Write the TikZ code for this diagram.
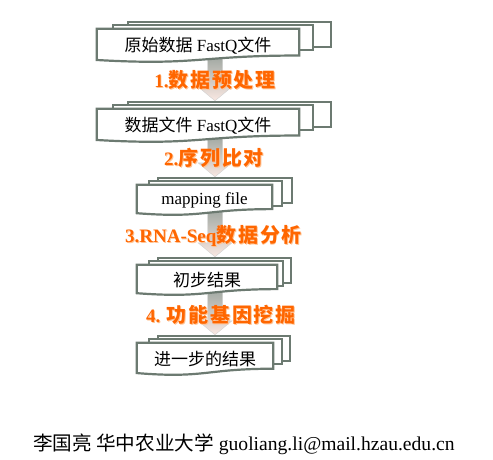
\documentclass[tikz,border=0pt]{standalone}
\usepackage{fontspec}
\setmainfont{Liberation Serif}
\newfontfamily\cjk{Noto Sans CJK SC}
\newfontfamily\cjkb[LetterSpace=9]{Noto Sans CJK SC}
\usetikzlibrary{calc,backgrounds}
\definecolor{docgray}{RGB}{108,122,113}
\definecolor{steporange}{RGB}{255,102,0}
\definecolor{stepglow}{RGB}{255,196,150}
\definecolor{arrtop}{RGB}{160,168,162}
\definecolor{arrbot}{RGB}{250,232,226}
\newcommand\docstack[5]{%
  \draw[docline] ($(#1.north west)+(#4,-7)$) rectangle ($(#1.north east)+(#5,18)$);
  \draw[docline] ($(#1.north west)+(#2,-3.5)$) rectangle ($(#1.north east)+(#3,21)$);
  \draw[docline] (#1.north west) -- (#1.north east)
     -- ($(#1.north east)!0.80!(#1.south east)$)
     .. controls ($(#1.north)!0.80!(#1.south)$) and ($(#1.north)!1.107!(#1.south)$)
     .. ($(#1.north west)!0.934!(#1.south west)$) -- cycle;
}
\newcommand\flowarrow[2]{%
  \shade[arrowfill] let \p1=(#1.south -| axis), \p2=(#2.north -| axis) in
    (\x1-7.5pt,\y1+6pt) -- (\x1+7.5pt,\y1+6pt) -- (\x1+7.5pt,\y2+22pt)
    -- (\x1+17pt,\y2+22pt) -- (\x1,\y2+8pt) -- (\x1-17pt,\y2+22pt)
    -- (\x1-7.5pt,\y2+22pt) -- cycle;
}
\newcommand\steptext[3]{% name, position, text
  \node[steplabel, text=stepglow] (#1glow) at ($#2+(0.9,0.9)$) {#3};
  \node[steplabel] (#1) at #2 {#3};
}
\begin{document}
\begin{tikzpicture}[x=1pt,y=-1pt,
  docline/.style={draw=docgray, line width=2.2pt, fill=white, line join=miter},
  doctext/.style={inner sep=0pt, font=\fontsize{17}{20}\selectfont},
  steplabel/.style={text=steporange, inner sep=0pt, font=\fontsize{19}{22}\selectfont\bfseries},
  arrowfill/.style={top color=arrtop, bottom color=arrbot, draw=black!18, line width=0.4pt},
  footer/.style={inner sep=0pt, anchor=west, font=\fontsize{19.6}{22}\selectfont}]
\useasboundingbox (0,0) rectangle (493,460);
\coordinate (axis) at (215,0);

\node[doctext, minimum width=202pt, minimum height=33pt] (b1) at (198,45.5) {{\cjk 原始数据} FastQ{\cjk 文件}};
\node[doctext, minimum width=202pt, minimum height=33pt] (b2) at (198,125.5) {{\cjk 数据文件} FastQ{\cjk 文件}};
\node[doctext, minimum width=135pt, minimum height=30pt] (b3) at (204.5,200) {mapping file};
\node[doctext, minimum width=140pt, minimum height=30pt] (b4) at (207,280) {\cjk 初步结果};
\node[doctext, minimum width=136pt, minimum height=32pt] (b5) at (205,359) {\cjk 进一步的结果};

\begin{pgfonlayer}{background}
  \flowarrow{b1}{b2}
  \flowarrow{b2}{b3}
  \flowarrow{b3}{b4}
  \flowarrow{b4}{b5}
  \docstack{b1}{16}{14}{31}{32}
  \docstack{b2}{16}{14}{31}{32}
  \docstack{b3}{12}{10}{21}{20}
  \docstack{b4}{12}{6}{21}{14}
  \docstack{b5}{12}{9}{21}{17}
\end{pgfonlayer}

\steptext{l1}{(215,80)}{1.{\fontsize{20}{22}\selectfont\cjkb 数据预处理}}
\steptext{l2}{(214,157.5)}{2.{\fontsize{20}{22}\selectfont\cjkb 序列比对}}
\steptext{l3}{(213.5,236)}{3.RNA-Seq{\fontsize{20}{22}\selectfont\cjkb 数据分析}}
\steptext{l4}{(221,315)}{4. {\fontsize{20}{22}\selectfont\cjkb 功能基因挖掘}}

\node[footer] (foot) at (33,444) {{\cjk 李国亮 华中农业大学} guoliang.li@mail.hzau.edu.cn};
\end{tikzpicture}
\end{document}
